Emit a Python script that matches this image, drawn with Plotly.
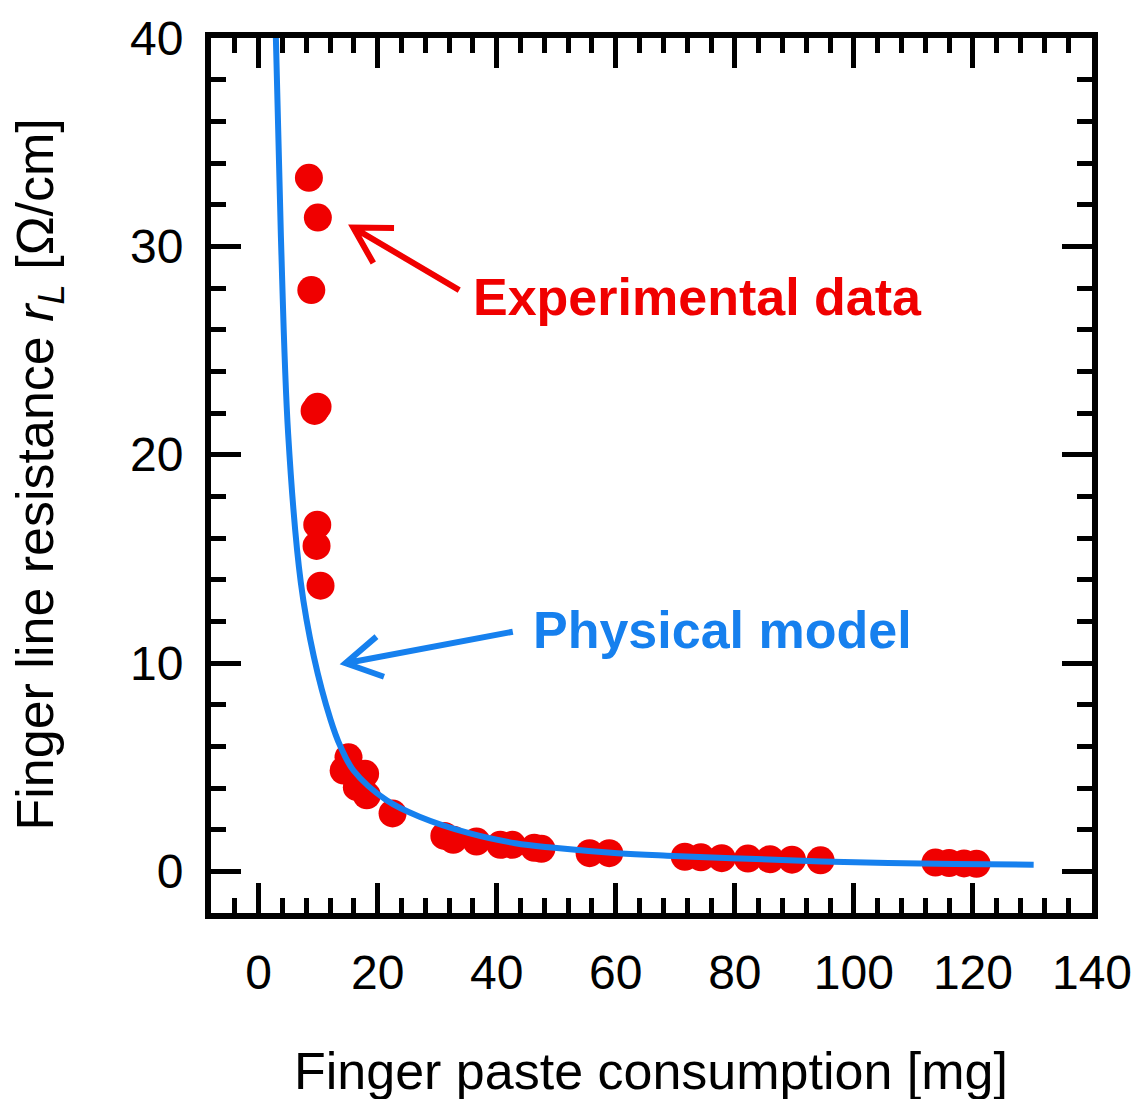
import math
import plotly.graph_objects as go

# ---------------- data ----------------
exp_x = [8.45, 9.95, 8.85, 9.4, 9.9, 9.85, 9.73, 10.4,
         15.1, 14.28, 17.89, 16.5, 18.17, 22.5,
         31.2, 32.7, 36.6, 40.6, 42.6, 46.3, 47.5, 55.6, 58.9,
         71.6, 74.3, 77.8, 82.2, 85.9, 89.6, 94.4,
         113.7, 116.0, 118.5, 120.6]
exp_y = [33.29, 31.38, 27.9, 22.1, 22.3, 16.64, 15.62, 13.71,
         5.47, 4.84, 4.68, 4.04, 3.65, 2.78,
         1.70, 1.51, 1.43, 1.27, 1.27, 1.13, 1.08, 0.87, 0.87,
         0.70, 0.67, 0.63, 0.61, 0.58, 0.56, 0.53,
         0.42, 0.40, 0.38, 0.36]

model_x = [2.9, 3.74, 4.96, 7.07, 9.28, 12.06, 13.73, 15.94, 21.5, 27.04,
           35.36, 43.13, 49.2, 60.3, 68.6, 83.6, 100.2, 116.8, 130.2]
model_y = [40.0, 30.5, 21.0, 13.9, 10.3, 7.3, 6.0, 4.84, 3.41, 2.62,
           1.83, 1.35, 1.14, 0.87, 0.75, 0.59, 0.43, 0.35, 0.32]

x_tick_vals = [0, 20, 40, 60, 80, 100, 120, 140]
y_tick_vals = [0, 10, 20, 30, 40]

x_title = "Finger paste consumption [mg]"
y_title = "Finger line resistance <i>r</i><sub><i>L</i></sub> [Ω/cm]"
label_exp = "Experimental data"
label_model = "Physical model"

# ---------------- styling / layout ----------------
RED = "#f00000"
BLUE = "#1680ee"
FONT = "Liberation Sans, Arial, sans-serif"

W, H = 1144, 1099
ML, MR, MT, MB = 211, 47, 33, 186
XR = [-8, 140]
YR = [-2, 40]
pw, ph = W - ML - MR, H - MT - MB
sx = pw / (XR[1] - XR[0])
sy = ph / (YR[1] - YR[0])


def arrow_path(head, tail, barb=41, ang=30):
    dx = (tail[0] - head[0]) * sx
    dy = -(tail[1] - head[1]) * sy
    L = math.hypot(dx, dy)
    ux, uy = dx / L, dy / L
    pts = []
    for s in (1, -1):
        a = math.radians(ang * s)
        bx = ux * math.cos(a) - uy * math.sin(a)
        by = ux * math.sin(a) + uy * math.cos(a)
        pts.append((head[0] + bx * barb / sx, head[1] - by * barb / sy))
    return (f"M {tail[0]},{tail[1]} L {head[0]},{head[1]} "
            f"M {pts[0][0]},{pts[0][1]} L {head[0]},{head[1]} L {pts[1][0]},{pts[1][1]}")


fig = go.Figure()
fig.add_trace(go.Scatter(x=exp_x, y=exp_y, mode="markers",
                         marker=dict(size=28, color=RED, line=dict(width=0)),
                         showlegend=False, hoverinfo="skip"))
fig.add_trace(go.Scatter(x=model_x, y=model_y, mode="lines",
                         line=dict(color=BLUE, width=6, shape="spline", smoothing=1.0),
                         showlegend=False, hoverinfo="skip"))

axis_common = dict(
    showline=True, linecolor="black", linewidth=6, mirror="ticks",
    ticks="inside", tickcolor="black", tickwidth=5, ticklen=30,
    showgrid=False, zeroline=False,
    tickfont=dict(family=FONT, size=48, color="black"),
)

fig.update_xaxes(range=XR, tickmode="array", tickvals=x_tick_vals,
                 ticktext=[str(v) for v in x_tick_vals],
                 minor=dict(dtick=4, tick0=0, ticks="inside", ticklen=15,
                            tickwidth=5, tickcolor="black", showgrid=False),
                 ticklabelstandoff=12, **axis_common)
fig.update_yaxes(range=YR, tickmode="array", tickvals=y_tick_vals,
                 ticktext=[str(v) for v in y_tick_vals],
                 minor=dict(dtick=2, tick0=0, ticks="inside", ticklen=15,
                            tickwidth=5, tickcolor="black", showgrid=False),
                 ticklabelstandoff=12, **axis_common)

shapes = [
    dict(type="path", xref="x", yref="y", path=arrow_path((15.9, 30.9), (33.7, 27.9)),
         line=dict(color=RED, width=6)),
    dict(type="path", xref="x", yref="y", path=arrow_path((14.6, 9.99), (42.7, 11.5)),
         line=dict(color=BLUE, width=6)),
]

annotations = [
    dict(x=35.7, y=27.55, xref="x", yref="y", text=f"<b>{label_exp}</b>",
         showarrow=False, xanchor="left", yanchor="middle",
         font=dict(family=FONT, size=52, color=RED)),
    dict(x=45.8, y=11.6, xref="x", yref="y", text=f"<b>{label_model}</b>",
         showarrow=False, xanchor="left", yanchor="middle",
         font=dict(family=FONT, size=52, color=BLUE)),
    dict(x=(653.5 - ML) / pw, y=1 - (1072 - MT) / ph, xref="paper", yref="paper",
         text=x_title, showarrow=False, xanchor="center", yanchor="middle",
         font=dict(family=FONT, size=52, color="black")),
    dict(x=(38 - ML) / pw, y=1 - (472 - MT) / ph, xref="paper", yref="paper",
         text=y_title, showarrow=False, xanchor="center", yanchor="middle",
         textangle=-90, font=dict(family=FONT, size=52, color="black")),
]

fig.update_layout(width=W, height=H, margin=dict(l=ML, r=MR, t=MT, b=MB),
                  plot_bgcolor="white", paper_bgcolor="white",
                  shapes=shapes, annotations=annotations, showlegend=False)

fig.write_html("out.html")
